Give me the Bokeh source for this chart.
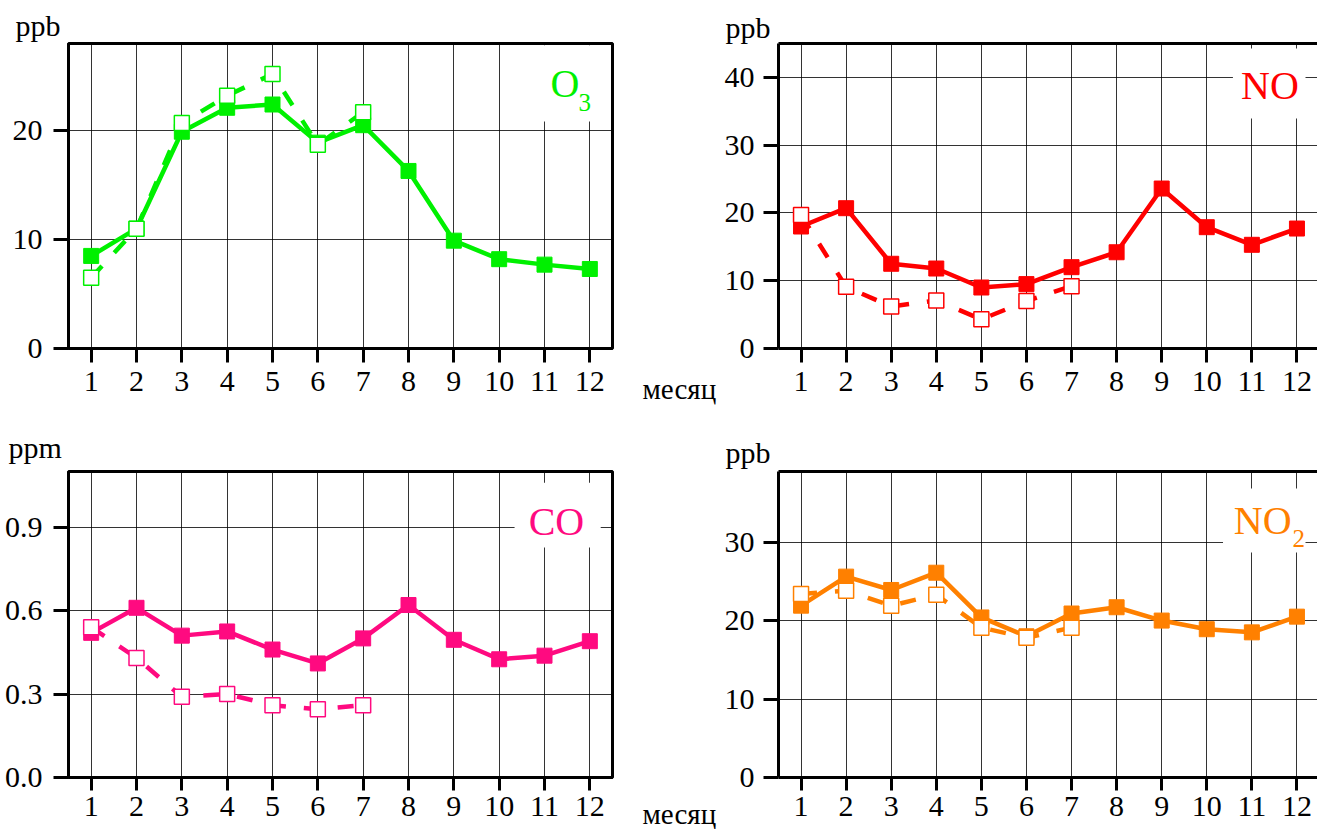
from bokeh.plotting import figure
from bokeh.layouts import column, row
from bokeh.models import Range1d, FixedTicker, Label, BoxAnnotation, LinearAxis, Title
from bokeh.embed import file_html
from bokeh.resources import INLINE

# ---------------- data ----------------
months = [1, 2, 3, 4, 5, 6, 7, 8, 9, 10, 11, 12]
months_part = [1, 2, 3, 4, 5, 6, 7]
month_labels = [str(m) for m in months]

o3_full = [8.5, 11.0, 19.9, 22.1, 22.4, 18.9, 20.5, 16.3, 9.9, 8.2, 7.7, 7.3]
o3_part = [6.5, 11.0, 20.7, 23.2, 25.2, 18.7, 21.7]
no_full = [18.0, 20.7, 12.5, 11.8, 9.0, 9.5, 12.0, 14.2, 23.6, 17.9, 15.3, 17.7]
no_part = [19.7, 9.1, 6.2, 7.1, 4.3, 7.0, 9.2]
co_full = [0.52, 0.61, 0.51, 0.525, 0.46, 0.41, 0.50, 0.62, 0.495, 0.425, 0.438, 0.49]
co_part = [0.54, 0.43, 0.29, 0.30, 0.26, 0.245, 0.26]
no2_full = [21.9, 25.6, 23.9, 26.1, 20.4, 18.0, 20.9, 21.7, 20.0, 18.9, 18.5, 20.5]
no2_part = [23.4, 23.8, 21.9, 23.3, 19.1, 17.8, 19.1]

o3_yticks = [0, 10, 20]
no_yticks = [0, 10, 20, 30, 40]
co_yticks = [0.0, 0.3, 0.6, 0.9]
co_ylabels = ["0.0", "0.3", "0.6", "0.9"]
no2_yticks = [0, 10, 20, 30]

unit_ppb = "ppb"
unit_ppm = "ppm"
x_title = "месяц"

FONT = "Liberation Serif"
FS = "30px"
C_O3 = "#00f000"
C_NO = "#ff0000"
C_CO = "#ff0a80"
C_NO2 = "#ff8000"


def make_panel(w, h, bl, br, bt, bb, x_end, y_end, yticks, color, full, part,
               left_side, tick_out_x, standoff_x, standoff_y, ylabels=None):
    p = figure(width=w, height=h, x_range=Range1d(0.5, x_end), y_range=Range1d(0, y_end),
               output_backend="svg", toolbar_location=None,
               min_border_left=bl, min_border_right=br, min_border_top=bt, min_border_bottom=bb)
    p.background_fill_color = "white"
    p.border_fill_color = "white"
    if left_side:
        p.outline_line_color = "black"
        p.outline_line_width = 3
        p.outline_line_alpha = 1.0
    else:
        p.outline_line_color = None
        top = LinearAxis(ticker=FixedTicker(ticks=[]), axis_line_width=3, axis_line_color="black",
                         major_tick_line_color=None, minor_tick_line_color=None,
                         major_tick_out=0, major_tick_in=0, major_label_standoff=0,
                         major_label_text_font_size="0px")
        p.add_layout(top, "above")

    xa = p.below[0]
    xa.ticker = FixedTicker(ticks=months)
    xa.major_label_overrides = {m: s for m, s in zip(months, month_labels)}
    xa.major_tick_out = tick_out_x
    xa.major_label_standoff = standoff_x

    ya = p.left[0]
    ya.ticker = FixedTicker(ticks=yticks)
    if ylabels is not None:
        ya.major_label_overrides = {t: s for t, s in zip(yticks, ylabels)}
    ya.major_tick_out = 15
    ya.major_label_standoff = standoff_y

    for ax in (xa, ya):
        ax.axis_line_width = 3
        ax.axis_line_color = "black"
        ax.major_tick_line_width = 3
        ax.major_tick_line_color = "black"
        ax.major_tick_in = 0
        ax.minor_tick_line_color = None
        ax.major_label_text_font = FONT
        ax.major_label_text_font_size = FS
        ax.major_label_text_color = "black"

    p.xgrid.ticker = FixedTicker(ticks=months)
    p.ygrid.ticker = FixedTicker(ticks=yticks)
    p.grid.grid_line_color = "black"
    p.grid.grid_line_width = 1
    p.grid.grid_line_alpha = 0.8

    p.line(months, full, line_color=color, line_width=4.5)
    p.scatter(months, full, marker="square", size=15, fill_color=color, line_color=color)
    p.line(months_part, part, line_color=color, line_width=4.5, line_dash="16 18")
    p.scatter(months_part, part, marker="square", size=15, fill_color="white",
              line_color=color, line_width=1.5)
    return p


def add_text(p, x, y, text, size, color):
    p.add_layout(Label(x=x, y=y, text=text, text_font=FONT, text_font_size=size,
                       text_color=color, text_baseline="alphabetic", text_align="left"))


def add_box(p, l, r, b, t):
    p.add_layout(BoxAnnotation(left=l, right=r, bottom=b, top=t, fill_color="white",
                               fill_alpha=1.0, line_color=None))


def add_unit(p, text, offset, standoff):
    p.add_layout(Title(text=text, align="left", offset=offset, standoff=standoff,
                       vertical_align="bottom", text_font=FONT, text_font_size=FS,
                       text_font_style="normal", text_color="black"), "above")


# top-left: O3
p1 = make_panel(641, 420, 68, 29, 43, 72, 12.5, 28, o3_yticks, C_O3, o3_full, o3_part,
                True, 14, 9, 11)
add_unit(p1, unit_ppb, -53, 3)
add_box(p1, 10.47, 12.37, 20.84, 27.85)
add_text(p1, 11.13, 24.33, "O", "40px", C_O3)
add_text(p1, 11.75, 22.58, "3", "25px", C_O3)

# top-right: NO
p2 = make_panel(596, 420, 54, 0, 43, 72, 12.456, 45, no_yticks, C_NO, no_full, no_part,
                False, 14, 9, 9)
add_unit(p2, unit_ppb, -53, 0)
add_box(p2, 10.58, 12.19, 33.93, 44.26)
add_text(p2, 10.76, 38.80, "NO", "40px", C_NO)

# bottom-left: CO
p3 = make_panel(641, 409, 68, 29, 51, 52, 12.5, 1.1, co_yticks, C_CO, co_full, co_part,
                True, 13, 6, 11, co_ylabels)
add_unit(p3, unit_ppm, -60, 15)
add_box(p3, 10.34, 12.24, 0.827, 1.06)
add_text(p3, 10.65, 0.920, "CO", "40px", C_CO)

# bottom-right: NO2
p4 = make_panel(596, 409, 54, 0, 51, 52, 12.456, 39, no2_yticks, C_NO2, no2_full, no2_part,
                False, 13, 6, 9)
add_unit(p4, unit_ppb, -53, 5)
add_box(p4, 10.36, 12.19, 28.68, 36.83)
add_text(p4, 10.60, 32.76, "NO", "40px", C_NO2)
add_text(p4, 11.90, 30.52, "2", "25px", C_NO2)

# middle strip carrying the two x-axis titles
mid = figure(width=80, height=829, x_range=Range1d(0, 80), y_range=Range1d(0, 829),
             output_backend="svg", toolbar_location=None, x_axis_type=None, y_axis_type=None,
             min_border_left=0, min_border_right=0, min_border_top=0, min_border_bottom=0)
mid.grid.visible = False
mid.outline_line_color = None
mid.background_fill_color = "white"
mid.border_fill_color = "white"
add_text(mid, 1, 441, x_title, "29px", "black")
add_text(mid, 1, 16, x_title, "29px", "black")

layout = row(column(p1, p3), mid, column(p2, p4))
open("out.html", "w").write(file_html(layout, INLINE))
